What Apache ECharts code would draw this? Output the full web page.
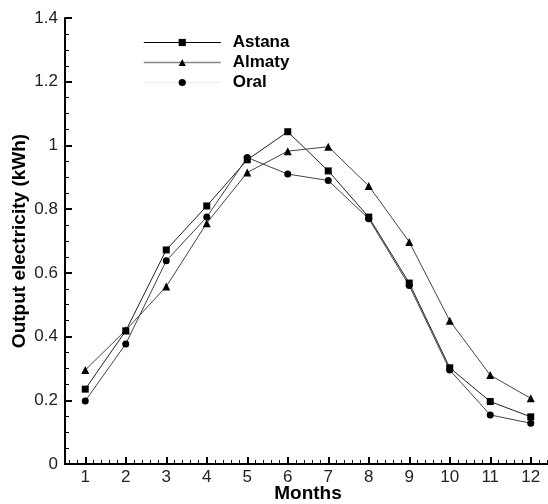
<!DOCTYPE html>
<html>
<head>
<meta charset="utf-8">
<script src="https://cdn.jsdelivr.net/npm/echarts@6/dist/echarts.min.js"></script>
<style>
    html, body { margin: 0; padding: 0; background: #fff; }
    #chart { width: 548px; height: 504px; }
</style>
</head>
<body>
<div id="chart"></div>
<script>
// 数据
var months = [1, 2, 3, 4, 5, 6, 7, 8, 9, 10, 11, 12];
var astana = [0.235, 0.418, 0.672, 0.81, 0.955, 1.043, 0.92, 0.775, 0.568, 0.302, 0.196, 0.148];
var almaty = [0.295, 0.42, 0.557, 0.756, 0.915, 0.982, 0.996, 0.873, 0.697, 0.45, 0.279, 0.206];
var oral = [0.198, 0.377, 0.638, 0.775, 0.962, 0.91, 0.89, 0.77, 0.56, 0.295, 0.154, 0.128];

function pairs(vals) {
    return months.map(function (m, i) { return [m, vals[i]]; });
}

// x轴小刻度
var minorX = [];
for (var m = 0; m <= 12; m++) {
    for (var k = 1; k < 5; k++) {
        var v = Math.round((m + k * 0.2) * 10) / 10;
        if (v > 0.5 && v < 12.5) minorX.push(v);
    }
}

var font = 'Liberation Sans, Arial, sans-serif';
var chart = echarts.init(document.getElementById('chart'));

var option = {
    animation: false,
    backgroundColor: '#fff',
    grid: { left: 65, top: 18, right: -3, bottom: 40, outerBoundsMode: 'none', containLabel: false },
    legend: {
        orient: 'vertical',
        left: 143,
        top: 34,
        padding: 0,
        itemWidth: 77,
        itemHeight: 9,
        itemGap: 3,
        textStyle: { fontFamily: font, fontWeight: 'bold', fontSize: 17, color: '#000', padding: [0, 0, 0, 7], lineHeight: 17 },
        data: [
            { name: 'Astana', lineStyle: { color: '#000', width: 1 } },
            { name: 'Almaty', lineStyle: { color: '#888', width: 1.5 } },
            { name: 'Oral', lineStyle: { color: '#ddd', width: 1, type: 'dotted' } }
        ]
    },
    xAxis: [{
        type: 'value',
        min: 0.5,
        max: 12.5,
        name: 'Months',
        nameLocation: 'middle',
        nameGap: 20,
        nameMoveOverlap: false,
        nameTextStyle: { fontFamily: font, fontWeight: 'bold', fontSize: 19, color: '#000' },
        axisLine: { show: true, lineStyle: { color: '#000', width: 2 } },
        axisTick: { show: true, inside: true, length: 7, customValues: months, lineStyle: { color: '#000', width: 2 } },
        axisLabel: { customValues: months, margin: 5, fontFamily: font, fontSize: 17, color: '#222' },
        splitLine: { show: false }
    }, {
        type: 'value',
        min: 0.5,
        max: 12.5,
        position: 'bottom',
        axisLine: { show: false },
        axisTick: { show: true, inside: true, length: 4, customValues: minorX, lineStyle: { color: '#000', width: 1 } },
        axisLabel: { show: false },
        splitLine: { show: false }
    }],
    yAxis: {
        type: 'value',
        min: 0,
        max: 1.4,
        interval: 0.2,
        name: 'Output electricity (kWh)',
        nameLocation: 'middle',
        nameGap: 36,
        nameMoveOverlap: false,
        nameTextStyle: { fontFamily: font, fontWeight: 'bold', fontSize: 19, color: '#000' },
        axisLine: { show: true, lineStyle: { color: '#000', width: 2 } },
        axisTick: { show: true, inside: true, length: 7, lineStyle: { color: '#000', width: 2 } },
        minorTick: { show: true, splitNumber: 4, length: 4, lineStyle: { color: '#000', width: 1 } },
        axisLabel: { margin: 7, fontFamily: font, fontSize: 17, color: '#222' },
        splitLine: { show: false }
    },
    series: [
        {
            name: 'Astana', type: 'line', data: pairs(astana),
            symbol: 'rect', symbolSize: 7,
            itemStyle: { color: '#000' },
            lineStyle: { color: '#222', width: 1 }
        },
        {
            name: 'Almaty', type: 'line', data: pairs(almaty),
            symbol: 'triangle', symbolSize: 8,
            itemStyle: { color: '#000' },
            lineStyle: { color: '#444', width: 1 }
        },
        {
            name: 'Oral', type: 'line', data: pairs(oral),
            symbol: 'circle', symbolSize: 7,
            itemStyle: { color: '#000' },
            lineStyle: { color: '#444', width: 1 }
        }
    ]
};

chart.setOption(option);
</script>
</body>
</html>
